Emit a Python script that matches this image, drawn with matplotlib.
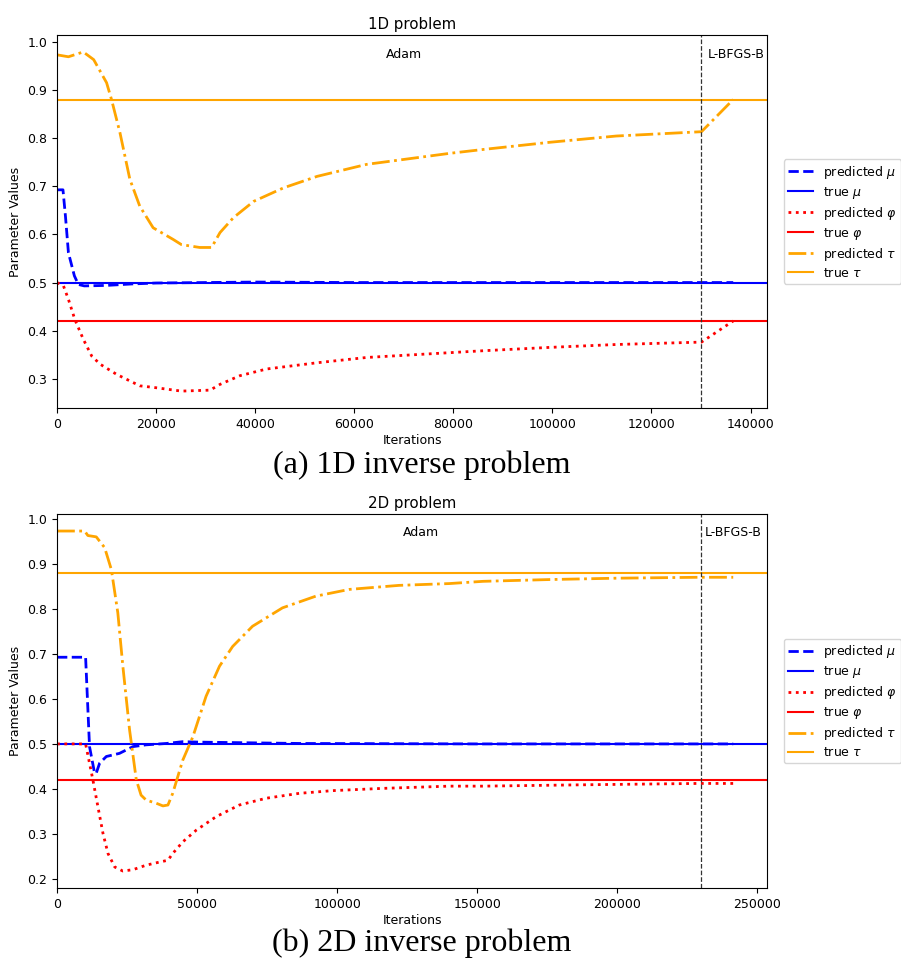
import matplotlib
matplotlib.use("Agg")
import matplotlib.pyplot as plt

# ---------------- 1D problem data ----------------
it_tau_1d = [0, 2300, 5300, 7400, 10000, 11000, 12700, 14700, 16700, 19400, 23400, 25100,
             28800, 31200, 32900, 35600, 39700, 45700, 52500, 62500, 79300, 86000, 99500,
             112900, 130100, 136500]
tau_1d = [0.974, 0.970, 0.980, 0.964, 0.916, 0.881, 0.812, 0.715, 0.659, 0.614, 0.590, 0.579,
          0.573, 0.573, 0.604, 0.635, 0.669, 0.697, 0.721, 0.746, 0.769, 0.777, 0.792,
          0.805, 0.814, 0.881]

it_mu_1d = [0, 1200, 1700, 2300, 3500, 4300, 5500, 10000, 15000, 20000, 30000, 40000,
            60000, 100000, 130000, 136500]
mu_1d = [0.693, 0.693, 0.638, 0.562, 0.514, 0.496, 0.493, 0.494, 0.497, 0.499, 0.500, 0.501,
         0.500, 0.500, 0.500, 0.500]

it_phi_1d = [0, 1300, 2300, 3600, 5300, 7000, 8700, 12000, 16700, 20000, 25100, 30900,
             32900, 36900, 42300, 52500, 62500, 79300, 86000, 99500, 112900, 130100, 136500]
phi_1d = [0.500, 0.493, 0.465, 0.423, 0.382, 0.347, 0.330, 0.309, 0.285, 0.281, 0.274, 0.276,
          0.288, 0.306, 0.320, 0.333, 0.344, 0.354, 0.358, 0.365, 0.371, 0.376, 0.420]

true_1d = {"mu": 0.5, "phi": 0.42, "tau": 0.88}
switch_1d = 130000

# ---------------- 2D problem data ----------------
it_tau_2d = [0, 9860, 11000, 14000, 17000, 19400, 21700, 23500, 25900, 28300, 30000, 31800,
             35400, 37800, 39600, 41300, 44900, 48500, 53200, 58000, 62700, 69800, 80500,
             92400, 104300, 122100, 140000, 152100, 176000, 199800, 228900, 241400]
tau_2d = [0.974, 0.974, 0.964, 0.961, 0.937, 0.888, 0.792, 0.673, 0.531, 0.420, 0.386, 0.375,
          0.368, 0.362, 0.364, 0.390, 0.464, 0.516, 0.606, 0.673, 0.717, 0.762, 0.803,
          0.829, 0.844, 0.853, 0.857, 0.862, 0.866, 0.869, 0.871, 0.871]

it_mu_2d = [0, 10200, 11600, 13400, 14000, 15200, 17600, 22300, 27100, 31800, 39000, 44900,
            50800, 62700, 86500, 150000, 241400]
mu_2d = [0.693, 0.693, 0.494, 0.435, 0.435, 0.457, 0.472, 0.479, 0.494, 0.498, 0.501, 0.505,
         0.504, 0.503, 0.501, 0.500, 0.500]

it_phi_2d = [0, 10200, 11600, 12800, 14600, 16400, 18200, 20600, 23500, 27100, 31800, 36600,
             39600, 41300, 44900, 49700, 56800, 65100, 74600, 86500, 98400, 116200, 140000,
             152100, 187900, 228900, 241400]
phi_2d = [0.500, 0.500, 0.457, 0.420, 0.360, 0.301, 0.256, 0.226, 0.217, 0.220, 0.230, 0.237,
          0.241, 0.256, 0.282, 0.308, 0.338, 0.364, 0.379, 0.390, 0.396, 0.401, 0.406,
          0.406, 0.409, 0.412, 0.412]

true_2d = {"mu": 0.5, "phi": 0.42, "tau": 0.88}
switch_2d = 230000

titles = ["1D problem", "2D problem"]
captions = ["(a) 1D inverse problem", "(b) 2D inverse problem"]

fig = plt.figure(figsize=(9.01, 9.59), dpi=100)
ax1 = fig.add_axes([0.0633, 0.5745, 0.788, 0.389])
ax2 = fig.add_axes([0.0633, 0.0740, 0.788, 0.390])

FS = 9

def draw(ax, it_mu, mu, it_phi, phi, it_tau, tau, true, switch, title, adam_x, lb_x, txt_y):
    ax.plot(it_mu, mu, color="blue", ls="--", lw=2, label=r"predicted $\mu$")
    ax.axhline(true["mu"], color="blue", lw=1.5, label=r"true $\mu$")
    ax.plot(it_phi, phi, color="red", ls=":", lw=2, label=r"predicted $\varphi$")
    ax.axhline(true["phi"], color="red", lw=1.5, label=r"true $\varphi$")
    ax.plot(it_tau, tau, color="orange", ls="-.", lw=2, label=r"predicted $\tau$")
    ax.axhline(true["tau"], color="orange", lw=1.5, label=r"true $\tau$")
    ax.axvline(switch, color="#333333", ls="--", lw=0.9)
    ax.set_xlim(left=0)
    ax.text(adam_x, txt_y, "Adam", ha="center", va="center", fontsize=FS)
    ax.text(lb_x, txt_y, "L-BFGS-B", ha="left", va="center", fontsize=FS)
    ax.set_title(title, fontsize=10.8, pad=4)
    ax.set_xlabel("Iterations", fontsize=FS, labelpad=2)
    ax.set_ylabel("Parameter Values", fontsize=FS)
    ax.tick_params(labelsize=FS)
    ax.legend(loc="center left", bbox_to_anchor=(1.015, 0.5), fontsize=FS,
              labelspacing=0.32, borderpad=0.35)

draw(ax1, it_mu_1d, mu_1d, it_phi_1d, phi_1d, it_tau_1d, tau_1d, true_1d, switch_1d,
     titles[0], 70000, 131300, 0.974)
draw(ax2, it_mu_2d, mu_2d, it_phi_2d, phi_2d, it_tau_2d, tau_2d, true_2d, switch_2d,
     titles[1], 130000, 231300, 0.970)

fig.text(0.468, 0.515, captions[0], ha="center", va="center",
         family="Liberation Serif", fontsize=23)
fig.text(0.468, 0.0167, captions[1], ha="center", va="center",
         family="Liberation Serif", fontsize=23)

fig.savefig("out.png", dpi=100)
